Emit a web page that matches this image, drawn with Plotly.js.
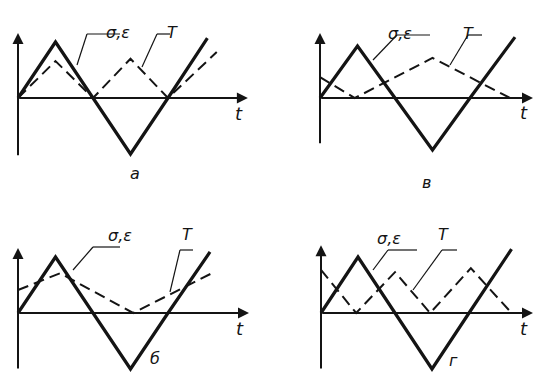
<!DOCTYPE html>
<html>
<head>
<meta charset="utf-8">
<script src="https://cdn.plot.ly/plotly-3.0.1.min.js"></script>
<style>
  html, body { margin: 0; padding: 0; background: #ffffff; }
  #chart { width: 537px; height: 375px; }
</style>
</head>
<body>
<div id="chart"></div>
<script>
// Loading cycles: stress/strain (solid) and temperature T (dashed) vs time t
// t in quarter periods, values in amplitude units

// а
const tSolidA = [0, 1, 2, 3, 4, 5.05];
const sSolidA = [0, 1, 0, -1, 0, 1.07];
const tTempA = [0, 1, 2, 3, 4, 5.3];
const sTempA = [0, 0.66, 0, 0.7, 0, 0.82];

// в
const tSolidV = [0, 1, 2, 3, 4, 5.2];
const sSolidV = [0, 1, 0, -1, 0, 1.17];
const tTempV = [0, 0.93, 3.0, 5.07];
const sTempV = [0.4, 0, 0.77, 0];

// б
const tSolidB = [0, 1, 2, 3, 4, 5.12];
const sSolidB = [0, 1, 0, -1, 0, 1.09];
const tTempB = [0, 1.12, 3.07, 5.17];
const sTempB = [0.41, 0.71, 0, 0.71];

// г
const tSolidG = [0, 1, 2, 3, 4, 5.15];
const sSolidG = [0, 1, 0, -1, 0, 1.14];
const tTempG = [0, 0.95, 2.0, 2.95, 4.05, 5.15];
const sTempG = [0.77, 0, 0.73, 0, 0.8, 0];

const panelLetters = ['а', 'в', 'б', 'г'];

const W = 537, H = 375;
const px = x => x / W;
const py = y => 1 - y / H;

// panel boxes in pixels + origin and scale
const panels = [
    { box: [0, 268, 0, 187],   o: [18, 98],   sx: 37.5, sy: 56, yAx: [-1.05, 1.16], tMax: 6.13,
      ts: tSolidA, ss: sSolidA, tt: tTempA, st: sTempA },
    { box: [270, 537, 0, 187], o: [320, 98],  sx: 37.5, sy: 52, yAx: [-0.9, 1.25], tMax: 5.68,
      ts: tSolidV, ss: sSolidV, tt: tTempV, st: sTempV },
    { box: [0, 268, 188, 375], o: [18, 313],  sx: 37.5, sy: 56, yAx: [-1.02, 1.16], tMax: 6.16,
      ts: tSolidB, ss: sSolidB, tt: tTempB, st: sTempB },
    { box: [270, 537, 188, 375], o: [321, 313], sx: 37, sy: 56, yAx: [-1.02, 1.21], tMax: 5.73,
      ts: tSolidG, ss: sSolidG, tt: tTempG, st: sTempG }
];

const ink = '#141414';
const textFont = { family: 'DejaVu Sans', size: 16, color: ink };

const data = [];
const layout = {
    width: W, height: H,
    margin: { t: 0, r: 0, b: 0, l: 0 },
    paper_bgcolor: '#ffffff',
    plot_bgcolor: 'rgba(0,0,0,0)',
    showlegend: false,
    shapes: [],
    annotations: []
};

panels.forEach((p, i) => {
    const n = i === 0 ? '' : String(i + 1);
    const [x0, x1, y0, y1] = p.box;
    layout['xaxis' + n] = {
        domain: [px(x0), px(x1)],
        range: [(x0 - p.o[0]) / p.sx, (x1 - p.o[0]) / p.sx],
        visible: false, fixedrange: true
    };
    layout['yaxis' + n] = {
        domain: [py(y1), py(y0)],
        range: [(p.o[1] - y1) / p.sy, (p.o[1] - y0) / p.sy],
        visible: false, fixedrange: true
    };
    const xr = 'x' + n, yr = 'y' + n;

    // axes with arrows
    layout.annotations.push({
        xref: xr, yref: yr, axref: xr, ayref: yr,
        x: p.tMax, y: 0, ax: 0, ay: 0, text: '', showarrow: true,
        arrowhead: 2, arrowsize: 1.1, arrowwidth: 2, arrowcolor: ink
    });
    layout.annotations.push({
        xref: xr, yref: yr, axref: xr, ayref: yr,
        x: 0, y: p.yAx[1], ax: 0, ay: p.yAx[0], text: '', showarrow: true,
        arrowhead: 2, arrowsize: 1.1, arrowwidth: 2, arrowcolor: ink
    });
    layout.annotations.push({
        xref: xr, yref: yr, x: p.tMax - 0.25, y: -0.27, text: '<i>t</i>',
        showarrow: false, font: { family: 'DejaVu Sans', size: 18, color: ink }
    });

    data.push({
        x: p.tt, y: p.st, xaxis: xr, yaxis: yr, type: 'scatter', mode: 'lines',
        line: { color: ink, width: 2, dash: '11px,6px' }, hoverinfo: 'skip'
    });
    data.push({
        x: p.ts, y: p.ss, xaxis: xr, yaxis: yr, type: 'scatter', mode: 'lines',
        line: { color: ink, width: 3.2 }, hoverinfo: 'skip'
    });
});

// leader lines and labels (pixel positions)
const leaders = [
    { se: [[87, 34], [120, 34], [77, 65]], seText: [104, 21], T: [[157, 34], [170, 34], [142, 67]], TText: [165, 21], letter: [128, 173] },
    { se: [[397, 35], [430, 35], [373, 60]], seText: [414, 22], T: [[468, 35], [482, 35], [450, 65]], TText: [476, 22], letter: [433, 182] },
    { se: [[93, 247], [120, 247], [73, 270]], seText: [106, 235], T: [[180, 250], [193, 250], [170, 292]], TText: [187, 234], letter: [148, 370] },
    { se: [[388, 250], [417, 250], [373, 270]], seText: [403, 238], T: [[442, 250], [457, 250], [413, 290]], TText: [451, 234], letter: [460, 372] }
];

const line1 = { color: ink, width: 1.2 };
leaders.forEach((l, i) => {
    [l.se, l.T].forEach(pts => {
        layout.shapes.push({ type: 'line', xref: 'paper', yref: 'paper',
            x0: px(pts[0][0]), y0: py(pts[0][1]), x1: px(pts[1][0]), y1: py(pts[1][1]), line: line1 });
        layout.shapes.push({ type: 'line', xref: 'paper', yref: 'paper',
            x0: px(pts[0][0]), y0: py(pts[0][1]), x1: px(pts[2][0]), y1: py(pts[2][1]), line: line1 });
    });
    layout.annotations.push({ xref: 'paper', yref: 'paper', x: px(l.seText[0]), y: py(l.seText[1]),
        text: '<i>σ,ε</i>', showarrow: false, font: textFont });
    layout.annotations.push({ xref: 'paper', yref: 'paper', x: px(l.TText[0]), y: py(l.TText[1]),
        text: '<i>T</i>', showarrow: false, font: textFont });
    layout.annotations.push({ xref: 'paper', yref: 'paper', x: px(l.letter[0]), y: py(l.letter[1]),
        text: '<i>' + panelLetters[i] + '</i>', showarrow: false, font: textFont });
});

Plotly.newPlot('chart', data, layout, { staticPlot: true });
</script>
</body>
</html>
